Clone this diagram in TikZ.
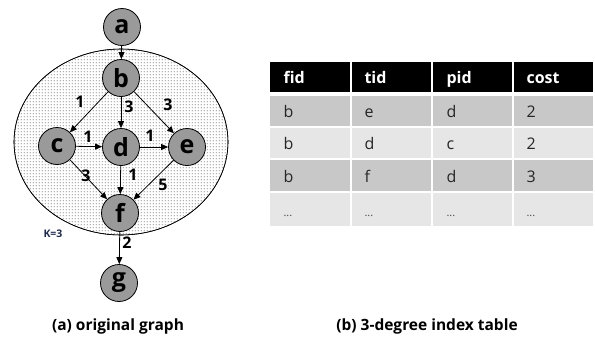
\documentclass[tikz,border=0pt]{standalone}
\usepackage{fontspec}
\setmainfont{Open Sans}
\usetikzlibrary{arrows.meta,patterns}
\pgfdeclarepatternformonly{sparsedots}{\pgfqpoint{-1pt}{-1pt}}{\pgfqpoint{2pt}{2pt}}{\pgfqpoint{3pt}{3pt}}{%
  \pgfpathcircle{\pgfqpoint{0.5pt}{0.5pt}}{0.65pt}\pgfusepath{fill}}
\definecolor{nodegray}{HTML}{9A9A9A}
\definecolor{rowdark}{HTML}{C8C8C8}
\definecolor{rowlight}{HTML}{E6E6E6}
\definecolor{klab}{HTML}{1F2A4A}
\tikzset{
  vtx/.style={circle,draw=black,line width=0.8pt,fill=nodegray,minimum size=37pt,inner sep=0pt,font=\fontsize{25}{25}\selectfont\bfseries},
  edge/.style={line width=0.8pt,-{Triangle[length=7pt,width=6pt]}},
  wlab/.style={font=\fontsize{16}{16}\selectfont\bfseries,inner sep=1pt},
  hcell/.style={text=white,font=\fontsize{16}{16}\selectfont\bfseries,anchor=base west},
  bcell/.style={font=\fontsize{16}{16}\selectfont,text=black!85,anchor=base west},
  captext/.style={font=\fontsize{15.5}{15.5}\selectfont\bfseries}
}
\begin{document}
\begin{tikzpicture}[x=1pt,y=-1pt]
\useasboundingbox (0,0) rectangle (595,338);
% region ellipse
\draw[line width=0.6pt,fill=white] (121,142) ellipse [x radius=107,y radius=93];
\fill[pattern=sparsedots,pattern color=black!85] (121,142) ellipse [x radius=107,y radius=93];
\draw[line width=0.6pt] (121,142) ellipse [x radius=107,y radius=93];
\node[font=\fontsize{10.5}{10.5}\selectfont\bfseries,text=klab] (klabel) at (53,234) {K=3};
% nodes
\node[vtx] (a) at (122,27) {a};
\node[vtx] (b) at (121,78) {b};
\node[vtx] (c) at (57,146) {c};
\node[vtx] (d) at (121,147) {d};
\node[vtx] (e) at (187,147) {e};
\node[vtx] (f) at (120,213) {f};
\node[vtx] (g) at (119,283) {g};
% edges
\draw[edge] (a) -- (b);
\draw[edge] (b) -- (c);
\draw[edge] (b) -- (d);
\draw[edge] (b) -- (e);
\draw[edge] (c) -- (d);
\draw[edge] (d) -- (e);
\draw[edge] (c) -- (f);
\draw[edge] (d) -- (f);
\draw[edge] (e) -- (f);
\draw[edge] (f) -- (g);
% weights
\node[wlab] (w1) at (80,102) {1};
\node[wlab] (w2) at (129,107) {3};
\node[wlab] (w3) at (168,105) {3};
\node[wlab] (w4) at (88,137) {1};
\node[wlab] (w5) at (150,136) {1};
\node[wlab] (w6) at (86,176) {3};
\node[wlab] (w7) at (133,175) {1};
\node[wlab] (w8) at (163,185) {5};
\node[wlab] (w9) at (127,243) {2};
% table
\foreach \xl/\xr [count=\i] in {270/350,352/431,433/512,514/593}{
  \fill[black] (\xl,62) rectangle (\xr,92);
  \fill[rowdark] (\xl,96) rectangle (\xr,126);
  \fill[rowlight] (\xl,128) rectangle (\xr,158);
  \fill[rowdark] (\xl,160) rectangle (\xr,191);
  \fill[rowlight] (\xl,193) rectangle (\xr,226);
}
\foreach \x/\h/\r/\s/\t [count=\j] in {280/fid/b/b/b,361/tid/e/d/f,443/pid/d/c/d,523/cost/2/2/3}{
  \node[hcell] (h\j) at (\x,83) {\h};
  \node[bcell] (r\j) at (\x,117) {\r};
  \node[bcell] (s\j) at (\x,149) {\s};
  \node[bcell] (t\j) at (\x,182) {\t};
  \node[bcell,text=black!70] (u\j) at (\x,216) {\fontsize{11}{11}\selectfont...};
}
% captions
\node[captext] (capa) at (118,326) {(a) original graph};
\node[captext] (capb) at (427,326) {(b) 3-degree index table};
\end{tikzpicture}
\end{document}
